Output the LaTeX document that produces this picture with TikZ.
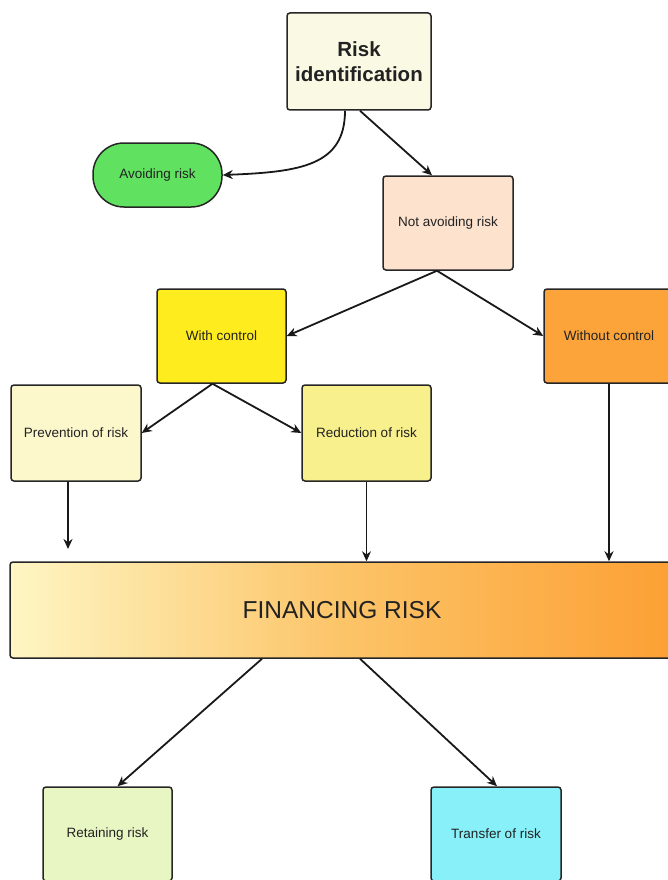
\documentclass[tikz,border=0pt]{standalone}
\usepackage{fontspec}
\setmainfont{Liberation Sans}
\usetikzlibrary{arrows.meta}
\definecolor{cRid}{RGB}{250,250,228}
\definecolor{cAvoid}{RGB}{96,226,96}
\definecolor{cNot}{RGB}{253,226,206}
\definecolor{cWith}{RGB}{255,236,30}
\definecolor{cWithout}{RGB}{252,164,58}
\definecolor{cPrev}{RGB}{252,248,204}
\definecolor{cRed}{RGB}{248,240,140}
\definecolor{cFinL}{RGB}{254,246,196}
\definecolor{cFinM}{RGB}{252,196,104}
\definecolor{cFinR}{RGB}{252,160,52}
\definecolor{cRet}{RGB}{232,246,196}
\definecolor{cTrans}{RGB}{136,240,248}
\definecolor{cText}{RGB}{34,34,34}
\tikzset{
  box/.style={draw=black!85, line width=1.5pt, rounded corners=3pt, inner sep=0pt,
    text=cText, font=\fontsize{13.5}{16}\selectfont, align=center},
  conn/.style={line width=1.8pt, draw=black!90, -{Stealth[length=10pt,width=9pt]}},
  thinconn/.style={conn, line width=1.1pt}
}
\begin{document}
\begin{tikzpicture}[x=1pt,y=-1pt]
\useasboundingbox (0,0) rectangle (668,880);
\clip (0,0) rectangle (668,880);
\node[box, fill=cRid, minimum width=144pt, minimum height=97pt,
  font=\bfseries\fontsize{20.5}{25}\selectfont] (rid) at (359,61.5) {Risk\\identification};
\node[box, fill=cAvoid, minimum width=129pt, minimum height=64pt, rounded corners=31pt] (avoid) at (157.5,175) {Avoiding risk};
\node[box, fill=cNot, minimum width=130pt, minimum height=94pt] (notav) at (448,223) {Not avoiding risk};
\node[box, fill=cWith, minimum width=129pt, minimum height=94pt] (withc) at (221.5,336) {With control};
\node[box, fill=cWithout, minimum width=130pt, minimum height=94pt] (without) at (609,336) {Without control};
\node[box, fill=cPrev, minimum width=130pt, minimum height=96pt] (prev) at (76,433) {Prevention of risk};
\node[box, fill=cRed, minimum width=129pt, minimum height=96pt] (red) at (366.5,433) {Reduction of risk};
\node[box, minimum width=664pt, minimum height=96pt, left color=cFinL, right color=cFinR, middle color=cFinM,
  font=\fontsize{24.5}{29}\selectfont] (fin) at (342,610) {FINANCING RISK};
\node[box, fill=cRet, minimum width=129pt, minimum height=94pt] (ret) at (107.5,834) {Retaining risk};
\node[box, fill=cTrans, minimum width=130pt, minimum height=94pt] (trans) at (496,834) {Transfer of risk};
\coordinate (prevend) at (68,549);

\draw[conn] ([xshift=-14pt]rid.south) .. controls ([xshift=-14pt,yshift=-55pt]rid.south) and (300,172) .. (avoid.east);
\draw[conn] ([xshift=1pt]rid.south) -- ([xshift=-16pt]notav.north);
\draw[conn] ([xshift=-11pt]notav.south) -- (withc.east);
\draw[conn] ([xshift=-11pt]notav.south) -- (without.west);
\draw[conn] ([xshift=-9pt]withc.south) -- (prev.east);
\draw[conn] ([xshift=-9pt]withc.south) -- (red.west);
\draw[conn] (prev.south -| prevend) -- (prevend);
\draw[thinconn] (red.south) -- (red.south |- fin.north);
\draw[conn] (without.south) -- (without.south |- fin.north);
\draw[conn] ([xshift=-80pt]fin.south) -- ([xshift=10pt]ret.north);
\draw[conn] ([xshift=18pt]fin.south) -- ([xshift=1pt]trans.north);
\end{tikzpicture}
\end{document}
